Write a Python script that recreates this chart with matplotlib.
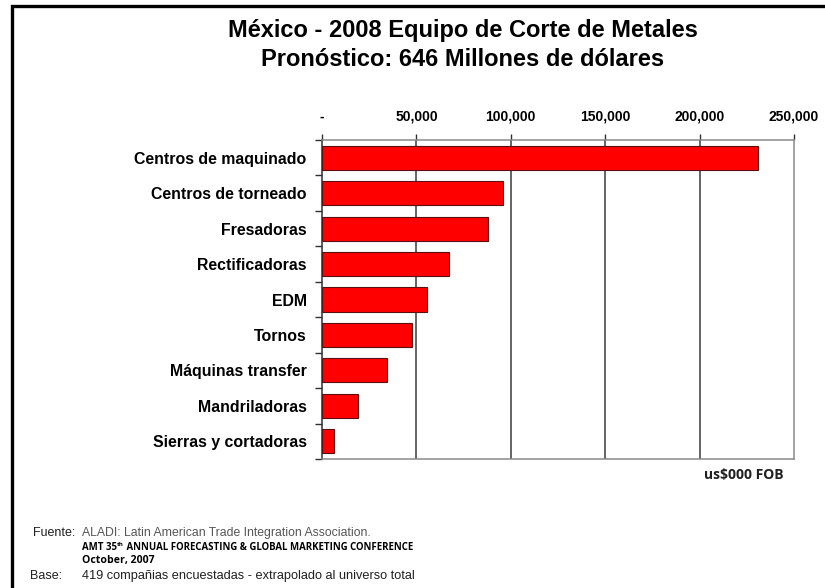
import matplotlib
matplotlib.use('Agg')
import matplotlib.pyplot as plt
from matplotlib.patches import Rectangle
from matplotlib.ticker import FuncFormatter

plt.rcParams['font.family'] = ['Liberation Sans', 'DejaVu Sans']

# Pronóstico 2008 por tipo de máquina (miles de dólares FOB)
categorias = ["Centros de maquinado", "Centros de torneado", "Fresadoras",
              "Rectificadoras", "EDM", "Tornos", "Máquinas transfer",
              "Mandriladoras", "Sierras y cortadoras"]
valores = [230700, 95800, 87800, 67200, 55600, 47600, 34400, 19000, 6300]
ticks_x = [0, 50000, 100000, 150000, 200000, 250000]

fig = plt.figure(figsize=(8.25, 5.88), dpi=100)

# marco negro de la lámina
fig.patches.append(Rectangle((12 / 825, -0.05), 1.1, 1 - 6 / 588 + 0.05,
                             transform=fig.transFigure, fill=False,
                             edgecolor='black', linewidth=2.4))

fig.text(0.561, 1 - 31 / 588, "México - 2008 Equipo de Corte de Metales",
         ha='center', va='center', fontsize=17, fontweight='bold')
fig.text(0.561, 1 - 59 / 588, "Pronóstico: 646 Millones de dólares",
         ha='center', va='center', fontsize=17, fontweight='bold')

ax = fig.add_axes([322 / 825, 1 - 459 / 588, 472 / 825, 319 / 588])
y = list(range(len(categorias)))
ax.barh(y, valores, height=0.68, color='#ff0000', edgecolor='#5a1010',
        linewidth=0.8, zorder=3)

ax.set_xlim(0, 250000)
ax.set_ylim(len(categorias) - 0.5, -0.5)

ax.xaxis.tick_top()
ax.set_xticks(ticks_x)
ax.xaxis.set_major_formatter(FuncFormatter(lambda v, p: '-' if v == 0 else f'{int(v):,}'))
ax.tick_params(axis='x', length=4, width=1, color='#303030', pad=8,
               labelsize=10)
for lbl in ax.get_xticklabels():
    lbl.set_fontweight('bold')

ax.set_yticks(y)
ax.set_yticklabels(categorias, fontsize=11.4, fontweight='bold')
ax.tick_params(axis='y', length=0, pad=11)
ax.set_yticks([i - 0.5 for i in range(len(categorias) + 1)], minor=True)
ax.tick_params(axis='y', which='minor', length=5, width=1, color='#303030')

for v in ticks_x[1:-1]:
    ax.axvline(v, color='#3a3a3a', linewidth=1.1, zorder=1)

for s in ['top', 'right', 'bottom']:
    ax.spines[s].set_color('#8a8a8a')
    ax.spines[s].set_linewidth(1.1)
ax.spines['left'].set_color('#303030')
ax.spines['left'].set_linewidth(1.1)

fig.text(704 / 825, 1 - 475 / 588, "us$000 FOB", ha='left', va='center',
         fontsize=10, fontweight='bold', family=['Open Sans', 'DejaVu Sans'],
         color='#202020')

# fuente y base
fig.text(33 / 825, 1 - 533 / 588, "Fuente:", ha='left', va='center',
         fontsize=9, color='#202020')
fig.text(82 / 825, 1 - 533 / 588,
         "ALADI: Latin American Trade Integration Association.",
         ha='left', va='center', fontsize=8.8, color='#555555')

renderer = fig.canvas.get_renderer()
y_amt = 1 - 548 / 588
t1 = fig.text(82 / 825, y_amt, "AMT 35", ha='left', va='center',
              fontsize=6.9, fontweight='bold', family=['Open Sans', 'DejaVu Sans'])
x1 = t1.get_window_extent(renderer).x1 / fig.bbox.width
t2 = fig.text(x1, y_amt + 0.006, "th", ha='left', va='center',
              fontsize=4.5, fontweight='bold', family=['Open Sans', 'DejaVu Sans'])
x2 = t2.get_window_extent(renderer).x1 / fig.bbox.width
fig.text(x2, y_amt, " ANNUAL FORECASTING & GLOBAL MARKETING CONFERENCE",
         ha='left', va='center', fontsize=6.9, fontweight='bold',
         family=['Open Sans', 'DejaVu Sans'])
fig.text(82 / 825, 1 - 561 / 588, "October, 2007", ha='left', va='center',
         fontsize=7.6, fontweight='bold', family=['Open Sans', 'DejaVu Sans'])

fig.text(30 / 825, 1 - 576 / 588, "Base:", ha='left', va='center',
         fontsize=9, color='#202020')
fig.text(82 / 825, 1 - 576 / 588,
         "419 compañias encuestadas - extrapolado al universo total",
         ha='left', va='center', fontsize=9.2, color='#202020')

fig.savefig('out.png', dpi=100)
